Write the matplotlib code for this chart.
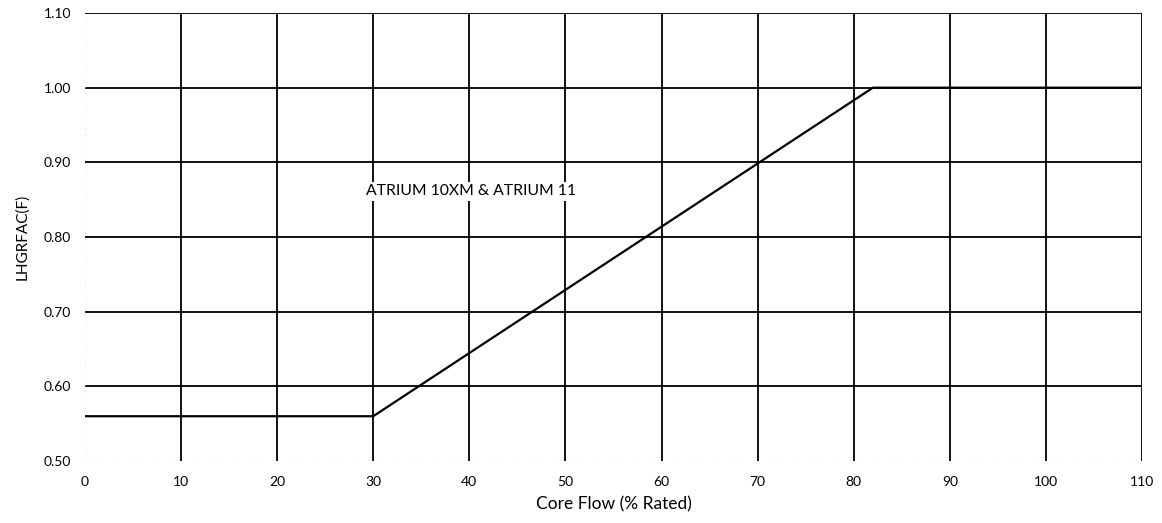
import numpy as np
import matplotlib
matplotlib.use("Agg")
import matplotlib.pyplot as plt

# LHGRFAC(F) flow-dependent multiplier
core_flow = [0, 30, 82, 110]
lhgrfac = [0.56, 0.56, 1.00, 1.00]

x_ticks = [0, 10, 20, 30, 40, 50, 60, 70, 80, 90, 100, 110]
y_ticks = [0.50, 0.60, 0.70, 0.80, 0.90, 1.00, 1.10]

label_text = "ATRIUM 10XM & ATRIUM 11"

plt.rcParams['font.family'] = ['Lato', 'DejaVu Sans']

fig = plt.figure(figsize=(11.62, 5.23), dpi=100)
ax = fig.add_axes([0.0731, 0.1185, 0.9097, 0.8566])

ax.set_xlim(0, 110)
ax.set_ylim(0.50, 1.10)

# grid drawn as plain lines so the 0 / 0.50 edges stay open
for xv in x_ticks[1:]:
    ax.axvline(xv, color="black", lw=1.3, zorder=1)
for yv in y_ticks[1:]:
    ax.axhline(yv, color="black", lw=1.3, zorder=1)
ax.axhline(0.50, color="#a0a0a0", lw=0.8, ls=(0, (1, 2)), zorder=1)
ax.axvline(0, color="#c8c8c8", lw=0.6, ls=(0, (1, 6)), zorder=1)

ax.plot(core_flow, lhgrfac, color="black", lw=1.6, zorder=3,
        solid_capstyle="butt")

ax.text(40.2, 0.861, label_text, ha="center", va="center", fontsize=11.3,
        zorder=4, bbox=dict(facecolor="white", edgecolor="none", pad=2))

for s in ax.spines.values():
    s.set_visible(False)

ax.set_xticks(x_ticks)
ax.set_xticklabels([str(v) for v in x_ticks])
ax.set_yticks(y_ticks)
ax.set_yticklabels([f"{v:.2f}" for v in y_ticks])
ax.tick_params(axis="both", length=0, labelsize=10)
ax.tick_params(axis="x", pad=11)
ax.tick_params(axis="y", pad=10)

ax.set_xlabel("Core Flow (% Rated)", fontsize=12.5, labelpad=6)
ax.set_ylabel("LHGRFAC(F)", fontsize=11, labelpad=10)

fig.savefig("out.png", dpi=100, facecolor="white")
